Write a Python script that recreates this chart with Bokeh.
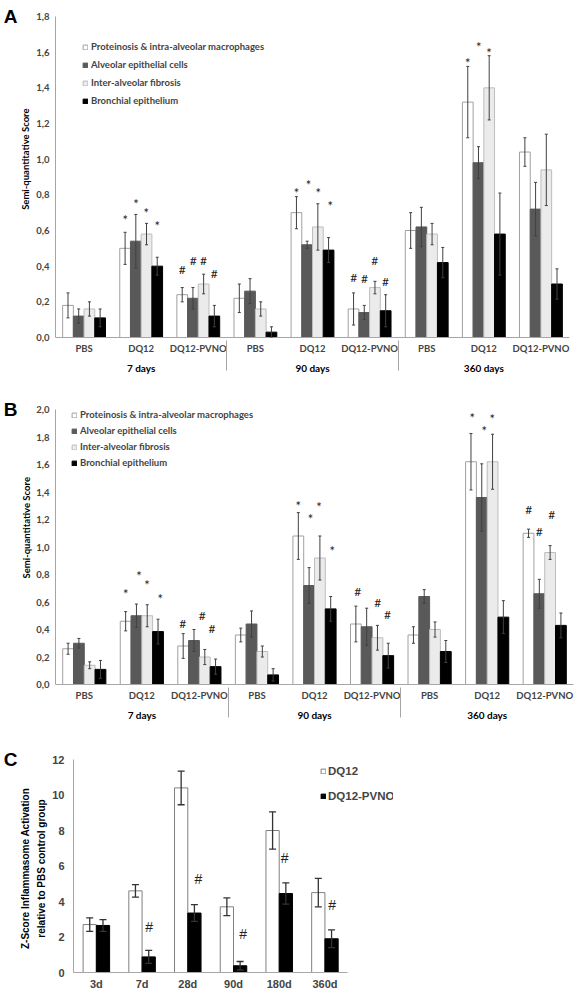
from bokeh.plotting import figure
from bokeh.models import (FactorRange, Range1d, Whisker, TeeHead, ColumnDataSource,
                          Legend, LegendItem, FixedTicker, CustomJSTickFormatter, LinearAxis)
from bokeh.transform import dodge
from bokeh.layouts import column
from bokeh.embed import file_html
from bokeh.resources import INLINE
from bokeh.core.properties import value

# ---------------- data ----------------
groups = ["7 days", "90 days", "360 days"]
treatments = ["PBS", "DQ12", "DQ12-PVNO"]
series_names = ["Proteinosis & intra-alveolar macrophages", "Alveolar epithelial cells",
                "Inter-alveolar fibrosis", "Bronchial epithelium"]

# Panel A (order: 7d PBS, DQ12, DQ12-PVNO, 90d ..., 360d ...)
a_prot = [0.18, 0.50, 0.24, 0.22, 0.70, 0.16, 0.60, 1.32, 1.04]
a_prot_err = [0.07, 0.09, 0.04, 0.08, 0.09, 0.09, 0.10, 0.20, 0.08]
a_alv = [0.12, 0.54, 0.22, 0.26, 0.52, 0.14, 0.62, 0.98, 0.72]
a_alv_err = [0.04, 0.15, 0.06, 0.07, 0.02, 0.04, 0.11, 0.09, 0.15]
a_fib = [0.16, 0.58, 0.30, 0.16, 0.62, 0.28, 0.58, 1.40, 0.94]
a_fib_err = [0.04, 0.06, 0.055, 0.04, 0.13, 0.035, 0.06, 0.18, 0.20]
a_bron = [0.11, 0.40, 0.12, 0.03, 0.49, 0.15, 0.42, 0.58, 0.30]
a_bron_err = [0.05, 0.05, 0.06, 0.03, 0.07, 0.09, 0.085, 0.23, 0.085]
a_yticks = [0.0, 0.2, 0.4, 0.6, 0.8, 1.0, 1.2, 1.4, 1.6, 1.8]
# significance marks: category index, x offset (category units), y value, symbol
a_mark_cat = [1, 1, 1, 1, 2, 2, 2, 2, 4, 4, 4, 4, 5, 5, 5, 5, 7, 7, 7]
a_mark_off = [-0.28, -0.09, 0.09, 0.28, -0.28, -0.09, 0.09, 0.28,
              -0.28, -0.07, 0.10, 0.31, -0.28, -0.09, 0.09, 0.28, -0.28, -0.09, 0.09]
a_mark_y = [0.68, 0.77, 0.72, 0.65, 0.38, 0.43, 0.43, 0.36,
            0.83, 0.88, 0.83, 0.76, 0.335, 0.33, 0.43, 0.315, 1.56, 1.65, 1.62]
a_mark_sym = ["*"] * 4 + ["#"] * 4 + ["*"] * 4 + ["#"] * 4 + ["*"] * 3

# Panel B
b_prot = [0.26, 0.46, 0.28, 0.36, 1.08, 0.44, 0.36, 1.62, 1.10]
b_prot_err = [0.04, 0.07, 0.09, 0.05, 0.17, 0.13, 0.06, 0.205, 0.03]
b_alv = [0.30, 0.50, 0.32, 0.44, 0.72, 0.42, 0.64, 1.36, 0.66]
b_alv_err = [0.035, 0.085, 0.08, 0.095, 0.13, 0.135, 0.05, 0.245, 0.105]
b_fib = [0.14, 0.50, 0.20, 0.24, 0.92, 0.34, 0.40, 1.62, 0.96]
b_fib_err = [0.025, 0.08, 0.055, 0.04, 0.16, 0.09, 0.055, 0.20, 0.05]
b_bron = [0.11, 0.385, 0.13, 0.07, 0.55, 0.21, 0.24, 0.49, 0.43]
b_bron_err = [0.065, 0.09, 0.055, 0.045, 0.09, 0.09, 0.08, 0.12, 0.09]
b_yticks = [0.0, 0.2, 0.4, 0.6, 0.8, 1.0, 1.2, 1.4, 1.6, 1.8, 2.0]
b_mark_cat = [1, 1, 1, 1, 2, 2, 2, 4, 4, 4, 4, 5, 5, 5, 7, 7, 7, 8, 8, 8]
b_mark_off = [-0.28, -0.05, 0.09, 0.32, -0.29, 0.05, 0.22, -0.28, -0.07, 0.08, 0.31,
              -0.25, 0.10, 0.27, -0.26, -0.05, 0.09, -0.28, -0.095, 0.12]
b_mark_y = [0.69, 0.82, 0.75, 0.65, 0.445, 0.50, 0.41, 1.33, 1.23, 1.32, 1.00,
            0.68, 0.60, 0.51, 1.97, 1.87, 1.96, 1.27, 1.11, 1.24]
b_mark_sym = ["*"] * 4 + ["#"] * 3 + ["*"] * 4 + ["#"] * 3 + ["*"] * 3 + ["#"] * 3

# Panel C
c_days = ["3d", "7d", "28d", "90d", "180d", "360d"]
c_series = ["DQ12", "DQ12-PVNO"]
c_dq12 = [2.7, 4.6, 10.4, 3.7, 8.0, 4.5]
c_dq12_err = [0.38, 0.35, 0.95, 0.5, 1.05, 0.8]
c_pvno = [2.65, 0.88, 3.35, 0.38, 4.45, 1.9]
c_pvno_err = [0.33, 0.37, 0.47, 0.24, 0.6, 0.5]
c_yticks = [0, 2, 4, 6, 8, 10, 12]
c_mark_cat = [1, 2, 3, 4, 5]
c_mark_off = [0.155, 0.23, 0.21, 0.12, 0.16]
c_mark_y = [2.57, 5.27, 2.19, 6.47, 3.81]

# ---------------- styles ----------------
AB_FONT = "Lato"
C_FONT = "Liberation Sans"
AXIS = "#a6a6a6"
ERR = "#404040"
fills = ["white", "#595959", "#ebebeb", "black"]
lines = ["#a0a0a0", "#595959", "#bdbdbd", "black"]
offsets = [-0.28125, -0.09375, 0.09375, 0.28125]
BW = 0.1875


def label_axis(p, tick, text, font, size, orient, standoff):
    """An extra left axis that only carries one text (panel letter or axis title)."""
    ax = LinearAxis(ticker=FixedTicker(ticks=[tick]),
                    formatter=CustomJSTickFormatter(args=dict(t=text), code="return t;"),
                    axis_line_color=None, major_tick_line_color=None, minor_tick_line_color=None,
                    major_tick_out=0, major_tick_in=0, minor_tick_out=0, minor_tick_in=0,
                    major_label_standoff=standoff, major_label_orientation=orient,
                    major_label_text_font=font, major_label_text_font_size=size,
                    major_label_text_font_style="bold", major_label_text_color="black")
    p.add_layout(ax, "left")


def build_ab(letter, means, errs, mark_cat, mark_off, mark_y, mark_sym, yticks, ymax,
             width, height, b_left, b_top, b_bottom, leg_x, leg_y, leg_spacing, ytitle_at):
    factors = [(g, t) for g in groups for t in treatments]
    p = figure(x_range=FactorRange(factors=factors, range_padding=0, factor_padding=0,
                                   group_padding=0, subgroup_padding=0),
               y_range=Range1d(0, ymax), width=width, height=height,
               min_border_left=b_left, min_border_right=1, min_border_top=b_top,
               min_border_bottom=b_bottom, output_backend="svg", toolbar_location=None)
    p.frame_align = False
    p.outline_line_color = None
    p.xgrid.grid_line_color = None
    p.ygrid.grid_line_color = None
    items = []
    for i in range(4):
        src = ColumnDataSource(dict(x=factors, y=means[i],
                                    lo=[m - e for m, e in zip(means[i], errs[i])],
                                    hi=[m + e for m, e in zip(means[i], errs[i])]))
        r = p.vbar(x=dodge("x", offsets[i], range=p.x_range), top="y", width=BW, source=src,
                   fill_color=fills[i], line_color=lines[i], line_width=1)
        items.append(LegendItem(label=series_names[i], renderers=[r]))
        p.add_layout(Whisker(source=src, base=dodge("x", offsets[i], range=p.x_range),
                             upper="hi", lower="lo", line_color=ERR, line_width=1,
                             upper_head=TeeHead(size=3, line_color=ERR, line_width=1),
                             lower_head=TeeHead(size=3, line_color=ERR, line_width=1),
                             level="overlay"))
    for c, o, yv, s in zip(mark_cat, mark_off, mark_y, mark_sym):
        src = ColumnDataSource(dict(x=[factors[c]], y=[yv], t=[s]))
        p.text(x=dodge("x", o, range=p.x_range), y="y", text="t", source=src,
               text_font=value(AB_FONT), text_font_size="13px" if s == "*" else "12px",
               text_color="#222222", text_align="center", text_baseline="middle",
               y_offset=4 if s == "*" else 0)
    ya = p.yaxis[0]
    ya.ticker = FixedTicker(ticks=yticks)
    ya.formatter = CustomJSTickFormatter(code="return tick.toFixed(1).replace('.', ',');")
    ya.axis_line_color = AXIS
    ya.major_tick_line_color = None
    ya.minor_tick_line_color = None
    ya.major_tick_out = 0
    ya.minor_tick_out = 0
    ya.major_label_text_font = AB_FONT
    ya.major_label_text_font_size = "9.5px"
    ya.major_label_text_font_style = "bold"
    ya.major_label_standoff = 6
    xa = p.xaxis[0]
    xa.axis_line_color = AXIS
    xa.major_tick_line_color = None
    xa.minor_tick_line_color = None
    xa.major_tick_out = 0
    xa.major_tick_in = 0
    xa.minor_tick_out = 0
    xa.major_label_text_font = AB_FONT
    xa.major_label_text_font_size = "9.5px"
    xa.major_label_text_font_style = "bold"
    xa.group_text_font = AB_FONT
    xa.group_text_font_size = "10px"
    xa.group_text_font_style = "bold"
    xa.group_text_color = "black"
    xa.separator_line_color = AXIS
    xa.separator_line_width = 1
    xa.major_label_standoff = 5
    leg = Legend(items=items, location=(leg_x, leg_y), glyph_width=6, glyph_height=6,
                 label_text_font=AB_FONT, label_text_font_size="9.5px",
                 label_text_font_style="bold", label_standoff=3, spacing=leg_spacing,
                 padding=0, margin=0, border_line_color=None, background_fill_alpha=0,
                 label_height=6)
    p.add_layout(leg)
    label_axis(p, ytitle_at, "Semi-quantitative Score", AB_FONT, "9.5px", "vertical", 2)
    label_axis(p, ymax, letter, C_FONT, "19px", "horizontal", 0)
    return p


pa = build_ab("A", [a_prot, a_alv, a_fib, a_bron], [a_prot_err, a_alv_err, a_fib_err, a_bron_err],
              a_mark_cat, a_mark_off, a_mark_y, a_mark_sym, a_yticks, 1.8,
              width=570, height=380, b_left=46, b_top=16, b_bottom=43,
              leg_x=27, leg_y=231, leg_spacing=7, ytitle_at=1.0)

pb = build_ab("B", [b_prot, b_alv, b_fib, b_bron], [b_prot_err, b_alv_err, b_fib_err, b_bron_err],
              b_mark_cat, b_mark_off, b_mark_y, b_mark_sym, b_yticks, 2.0,
              width=574, height=348, b_left=44, b_top=29, b_bottom=44,
              leg_x=16, leg_y=216, leg_spacing=5, ytitle_at=1.14)

# Panel C (numeric x so the legend may sit right of the last bar inside the frame)
c_x = [i + 0.5 for i in range(len(c_days))]
pc = figure(x_range=Range1d(0, 7), y_range=Range1d(0, 12), width=574, height=264,
            min_border_left=66, min_border_right=181, min_border_top=31, min_border_bottom=18,
            output_backend="svg", toolbar_location=None)
pc.frame_align = False
pc.outline_line_color = None
pc.xgrid.grid_line_color = None
pc.ygrid.grid_line_color = None
c_items = []
for name, vals, errs, off, fc, lc in [(c_series[0], c_dq12, c_dq12_err, -0.145, "white", "#808080"),
                                      (c_series[1], c_pvno, c_pvno_err, 0.145, "black", "black")]:
    src = ColumnDataSource(dict(x=c_x, y=vals,
                                lo=[m - e for m, e in zip(vals, errs)],
                                hi=[m + e for m, e in zip(vals, errs)]))
    r = pc.vbar(x=dodge("x", off), top="y", width=0.29, source=src,
                fill_color=fc, line_color=lc, line_width=1)
    c_items.append(LegendItem(label=name, renderers=[r]))
    pc.add_layout(Whisker(source=src, base=dodge("x", off),
                          upper="hi", lower="lo", line_color="#333333", line_width=1.3,
                          upper_head=TeeHead(size=7, line_color="#333333", line_width=1.3),
                          lower_head=TeeHead(size=7, line_color="#333333", line_width=1.3),
                          level="overlay"))
for c, o, yv in zip(c_mark_cat, c_mark_off, c_mark_y):
    src = ColumnDataSource(dict(x=[c_x[c]], y=[yv], t=["#"]))
    pc.text(x=dodge("x", o), y="y", text="t", source=src,
            text_font=value(C_FONT), text_font_size="14px", text_color="#222222",
            text_align="center", text_baseline="middle")
ya = pc.yaxis[0]
ya.ticker = FixedTicker(ticks=c_yticks)
ya.axis_line_color = AXIS
ya.major_tick_line_color = None
ya.minor_tick_line_color = None
ya.major_tick_out = 0
ya.minor_tick_out = 0
ya.major_label_text_font = C_FONT
ya.major_label_text_font_size = "11px"
ya.major_label_text_font_style = "bold"
ya.major_label_standoff = 9
xa = pc.xaxis[0]
xa.ticker = FixedTicker(ticks=c_x)
xa.formatter = CustomJSTickFormatter(args=dict(labels=c_days),
                                     code="return labels[Math.round(tick - 0.5)];")
xa.bounds = (0, len(c_days))
xa.axis_line_color = AXIS
xa.major_tick_line_color = None
xa.minor_tick_line_color = None
xa.major_tick_out = 0
xa.major_tick_in = 0
xa.minor_tick_out = 0
xa.major_label_text_font = C_FONT
xa.major_label_text_font_size = "11px"
xa.major_label_text_font_style = "bold"
xa.major_label_standoff = 5
cleg = Legend(items=c_items, location=(247, 170), glyph_width=6, glyph_height=6,
              label_text_font=C_FONT, label_text_font_size="11.5px",
              label_text_font_style="bold", label_standoff=2, spacing=13,
              padding=0, margin=0, border_line_color=None, background_fill_alpha=0,
              label_height=6)
pc.add_layout(cleg)
label_axis(pc, 5.86, "relative to PBS control group", C_FONT, "10px", "vertical", 2)
label_axis(pc, 5.86, "Z-Score Inflammasome Activation", C_FONT, "10px", "vertical", 2)
label_axis(pc, 12, "C", C_FONT, "19px", "horizontal", 0)

layout = column(pa, pb, pc)
open("out.html", "w").write(file_html(layout, INLINE))
